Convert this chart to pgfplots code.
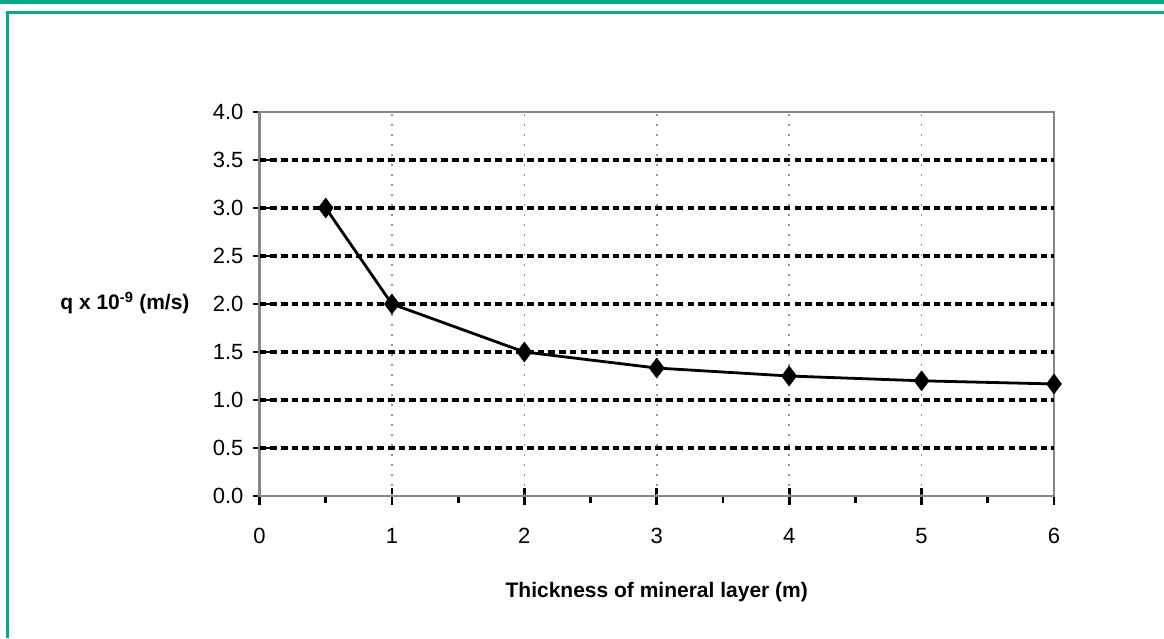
\documentclass[border=0pt]{standalone}
\usepackage{pgfplots}
\pgfplotsset{compat=1.18}
\usepackage{fontspec}
\setmainfont{Liberation Sans}
\definecolor{teal1}{RGB}{0,170,140}
\definecolor{axgray}{RGB}{135,135,135}
\begin{document}
\begin{tikzpicture}[x=1pt,y=1pt]
\useasboundingbox (0,0) rectangle (1164,638);
\fill[teal1] (0,634) rectangle (1164,638);
\fill[teal1] (6,624) rectangle (1164,626.7);
\fill[teal1] (6,0) rectangle (9,626.7);
\begin{axis}[
  at={(259.5pt,142pt)}, anchor=south west,
  scale only axis, width=794.5pt, height=384pt,
  xmin=0, xmax=6, ymin=0, ymax=4,
  clip=false,
  axis line style={axgray, line width=2.5pt},
  xtick={0,1,2,3,4,5,6},
  minor xtick={0.5,1.5,2.5,3.5,4.5,5.5},
  ytick={0,0.5,1,1.5,2,2.5,3,3.5,4},
  xtick pos=lower, ytick pos=left,
  tick align=center,
  major tick length=17pt,
  minor tick length=7pt,
  tick style={black, line width=2.8pt},
  minor x tick style={yshift=-3.5pt},
  major y tick style={xshift=2pt},
  extra x ticks={1,2,3,4,5},
  extra x tick labels={},
  extra x tick style={xmajorgrids=true, major tick length=0pt,
     major grid style={axgray!90, line width=1.6pt, dash pattern=on 1.6pt off 8.4pt}},
  extra y ticks={0.5,1,1.5,2,2.5,3,3.5},
  extra y tick labels={},
  extra y tick style={ymajorgrids=true, major tick length=0pt,
     major grid style={black, line width=3.6pt, dash pattern=on 6.6pt off 4.1pt}},
  /pgf/number format/assume math mode=true,
  yticklabel style={/pgf/number format/fixed, /pgf/number format/fixed zerofill, /pgf/number format/precision=1,
     font=\fontsize{22}{26}\selectfont, xshift=-4pt},
  xticklabel style={font=\fontsize{22}{26}\selectfont, yshift=-20pt},
  xlabel={Thickness of mineral layer (m)},
  xlabel style={font=\fontsize{21}{25}\selectfont\bfseries, at={(axis description cs:0.5,-0.25)}, anchor=center},
  ylabel={q x 10\textsuperscript{-9} (m/s)},
  ylabel style={font=\fontsize{21}{25}\selectfont\bfseries, rotate=-90, at={(axis description cs:-0.0837,0.503)}, anchor=east},
]
\addplot[black, line width=2.8pt, mark=diamond*, mark size=10pt,
  mark options={solid, fill=black, line width=0.5pt}] coordinates {
  (0.5,3.0) (1,2.0) (2,1.5) (3,1.333) (4,1.25) (5,1.2) (6,1.167)
};
\end{axis}
\end{tikzpicture}
\end{document}
